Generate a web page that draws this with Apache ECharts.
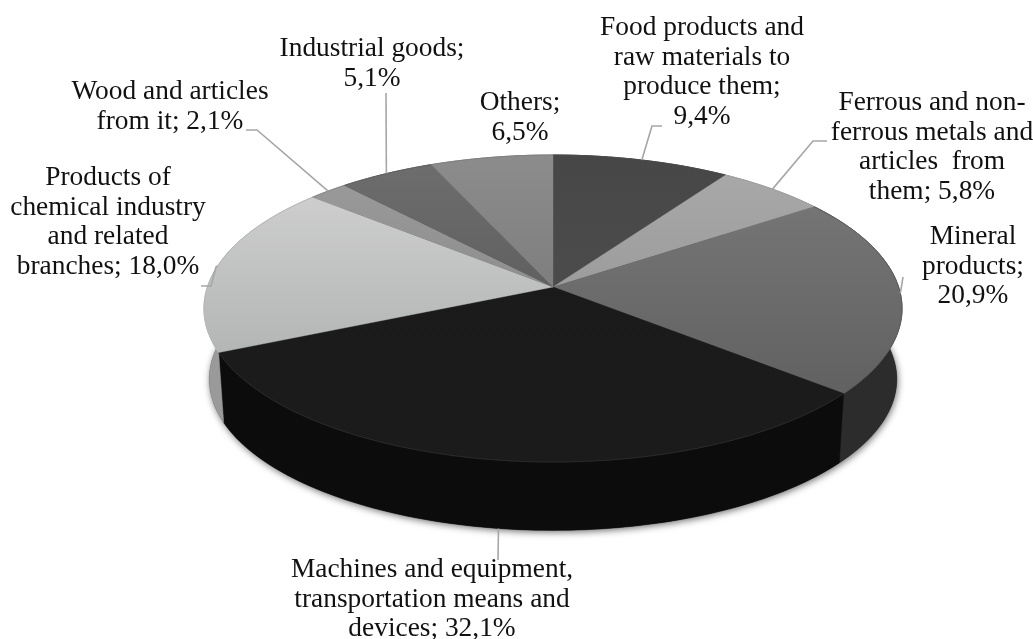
<!DOCTYPE html>
<html><head><meta charset="utf-8">
<style>html,body{margin:0;padding:0;background:#fff}#c{width:1033px;height:639px}</style>
<script src="https://cdn.jsdelivr.net/npm/echarts@6/dist/echarts.min.js"></script>
</head><body><div id="c"></div>
<script>
// ---- data ----
const categories = ['Food products and raw materials to produce them','Ferrous and non-ferrous metals and articles from them','Mineral products','Machines and equipment, transportation means and devices','Products of chemical industry and related branches','Wood and articles from it','Industrial goods','Others'];
const values = [9.4,5.8,20.9,32.1,18.0,2.1,5.1,6.5];
const labelTexts = [
  ['Food products and','raw materials to','produce them;','9,4%'],
  ['Ferrous and non-','ferrous metals and','articles  from','them; 5,8%'],
  ['Mineral','products;','20,9%'],
  ['Machines and equipment,','transportation means and','devices; 32,1%'],
  ['Products of','chemical industry','and related','branches; 18,0%'],
  ['Wood and articles','from it; 2,1%'],
  ['Industrial goods;','5,1%'],
  ['Others;','6,5%']
];
// ---- layout and style ----
const topColors = [['#474747','#525252'],['#aaaaaa','#8a8a8a'],['#7a7a7a','#5a5a5a'],['#1a1a1a','#1b1b1b'],['#d4d4d4','#a2a4a4'],['#9c9c9c','#7c7c7c'],['#6e6e6e','#4e4e4e'],['#8c8c8c','#6c6c6c']];
const sideColors = ['#333','#777','#2c2c2c','#0c0c0c','#9a9a9a','#777','#444','#666'];
const rimColors = ['#4a4a4a','#a0a0a0','#5c5c5c','#2a2a2a','#b8b8b8','#8a8a8a','#606060','#808080'];
const labelPos = [[702,28],[932,103],[973,237],[432,570],[108,178],[170,92],[372,49],[520,103]];
const elbows = [[[652,126],[662,126]],[[813,141],[827,141]],[[903,277]],[[498,560]],[[216,267],[211,286],[201,286]],[[257,130],[246,130]],[[386,93]],[]];
const lineH = 29.5;
const CX=553, CY=287, A=345.6, B=150.5, K=0.14, DEPTH=71, TAPER=0.985, FONT=27.4;
const total = values.reduce((a,b)=>a+b,0);
const cum = values.reduce((acc,v)=>{acc.push(acc[acc.length-1]+v);return acc;},[0]);
function proj(t){ const th=t/total*2*Math.PI, u=Math.sin(th), v=Math.cos(th), d=1+K*v; return [CX+A*u/d, CY-B*v/d]; }
function base(p){ return [CX+(p[0]-CX)*TAPER, CY+(p[1]-CY)*TAPER+DEPTH]; }
function arc(a,b){ const n=Math.max(4,Math.ceil((b-a)*3)), r=[]; for(let i=0;i<=n;i++) r.push(proj(a+(b-a)*i/n)); return r; }
const ink='#111';

const chart = echarts.init(document.getElementById('c'),null,{renderer:'canvas'});
chart.setOption({
  animation:false,
  backgroundColor:'#fff',
  series:[
   { type:'custom', coordinateSystem:'none', z:1, silent:true, data:values,
     renderItem(p){
       const i=p.dataIndex, rim=arc(cum[i],cum[i+1]), low=rim.map(base).reverse();
       const children=[];
       if(i===0){ children.push({type:'polygon',shape:{points:arc(0,total).map(base)},style:{fill:'#333',shadowBlur:7,shadowColor:'rgba(0,0,0,0.55)',shadowOffsetY:2,shadowOffsetX:1}}); }
       children.push({type:'polygon',shape:{points:rim.concat(low)},style:{fill:sideColors[i],stroke:sideColors[i],lineWidth:0.5}});
       return {type:'group',children};
     }},
   { type:'custom', coordinateSystem:'none', z:2, silent:true, data:values,
     renderItem(p){
       const i=p.dataIndex, rim=arc(cum[i],cum[i+1]);
       const fill=new echarts.graphic.LinearGradient(0,155,0,462,[{offset:0,color:topColors[i][0]},{offset:1,color:topColors[i][1]}],true);
       return {type:'group',children:[
         {type:'polygon',shape:{points:[[CX,CY]].concat(rim)},style:{fill,stroke:fill,lineWidth:0.4}},
         {type:'polyline',shape:{points:rim},style:{fill:null,stroke:rimColors[i],lineWidth:1}}
       ]};
     }},
   { type:'custom', coordinateSystem:'none', z:3, silent:true, data:values,
     renderItem(p){
       const i=p.dataIndex, children=[];
       if(elbows[i].length){
         const s=proj((cum[i]+cum[i+1])/2);
         const start=i===3?base(s):s;
         children.push({type:'polyline',shape:{points:[start].concat(elbows[i])},style:{fill:null,stroke:'#a6a6a6',lineWidth:1.6}});
       }
       labelTexts[i].forEach((t,j)=>children.push({type:'text',style:{text:t,x:labelPos[i][0],y:labelPos[i][1]+j*lineH,align:'center',verticalAlign:'middle',font:FONT+'px "Liberation Serif"',fill:ink}}));
       return {type:'group',children};
     }}
  ]
});
</script></body></html>
